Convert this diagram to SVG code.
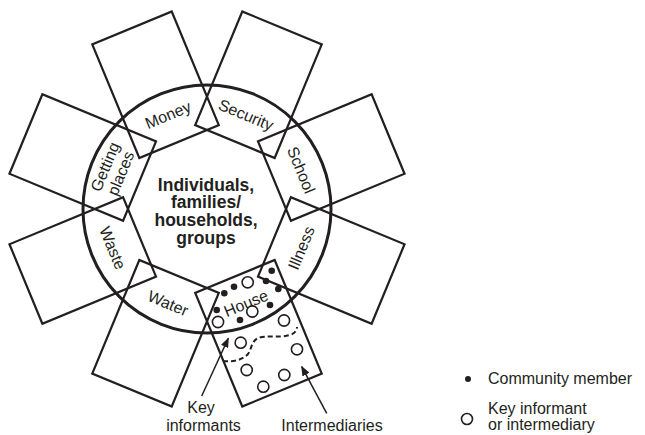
<svg xmlns="http://www.w3.org/2000/svg" width="645" height="435" viewBox="0 0 645 435">
<style>
.bg{fill:#ffffff}
.sq{fill:none;stroke:#231f20;stroke-width:2.2}
.ring{fill:none;stroke:#231f20;stroke-width:3}
.lbl{font-family:"Liberation Sans",Arial,sans-serif;font-size:16px;fill:#231f20;text-anchor:middle}
.ctr{font-family:"Liberation Sans",Arial,sans-serif;font-size:17.5px;font-weight:bold;fill:#231f20;text-anchor:middle}
.cap{font-family:"Liberation Sans",Arial,sans-serif;font-size:16px;fill:#231f20}
.dot{fill:#231f20}
.ring-o{fill:#ffffff;stroke:#231f20;stroke-width:1.6}
.dash{fill:none;stroke:#231f20;stroke-width:2;stroke-dasharray:5 3}
.arr{fill:none;stroke:#231f20;stroke-width:1.5}
</style>
<defs>
<marker id="ah" markerWidth="10" markerHeight="8" refX="9" refY="4" orient="auto" markerUnits="userSpaceOnUse">
<path d="M0,0 L10,4 L0,8 Z" fill="#231f20"/>
</marker>
</defs>
<rect class="bg" x="0" y="0" width="645" height="435"/>
<circle id="ring" class="ring" cx="207" cy="209" r="124"/>
<g id="money"><rect class="sq" x="164" y="13" width="86" height="123" transform="rotate(-22.5 207 209)"/><text class="lbl" transform="translate(168,114.8) rotate(-22.5)" dy="0.35em">Money</text></g>
<g id="security"><rect class="sq" x="164" y="13" width="86" height="123" transform="rotate(22.5 207 209)"/><text class="lbl" transform="translate(246,114.8) rotate(22.5)" dy="0.35em">Security</text></g>
<g id="school"><rect class="sq" x="164" y="13" width="86" height="123" transform="rotate(67.5 207 209)"/><text class="lbl" transform="translate(301.2,170) rotate(67.5)" dy="0.35em">School</text></g>
<g id="illness"><rect class="sq" x="164" y="13" width="86" height="123" transform="rotate(112.5 207 209)"/><text class="lbl" transform="translate(301.2,248) rotate(-67.5)" dy="0.35em">Illness</text></g>
<g id="house"><rect class="sq" x="164" y="13" width="86" height="123" transform="rotate(157.5 207 209)"/><text class="lbl" transform="translate(246,303.2) rotate(-22.5)" dy="0.35em">House</text></g>
<g id="water"><rect class="sq" x="164" y="13" width="86" height="123" transform="rotate(202.5 207 209)"/><text class="lbl" transform="translate(168,303.2) rotate(22.5)" dy="0.35em">Water</text></g>
<g id="waste"><rect class="sq" x="164" y="13" width="86" height="123" transform="rotate(247.5 207 209)"/><text class="lbl" transform="translate(112.8,248) rotate(67.5)" dy="0.35em">Waste</text></g>
<g id="getting-places"><rect class="sq" x="164" y="13" width="86" height="123" transform="rotate(292.5 207 209)"/><g transform="translate(112.8,170) rotate(-67.5)"><text class="lbl" y="-8.5" dy="0.35em">Getting</text><text class="lbl" y="8.5" dy="0.35em">places</text></g></g>
<g id="centre"><text class="ctr" x="206" y="190.5">Individuals,</text><text class="ctr" x="206" y="208.3">families/</text><text class="ctr" x="206" y="226.1">households,</text><text class="ctr" x="206" y="243.9">groups</text></g>
<g id="members">
<circle class="dot" cx="271.7" cy="270.7" r="3.3"/><circle class="dot" cx="266" cy="281" r="3.3"/><circle class="dot" cx="278.3" cy="289" r="3.3"/><circle class="dot" cx="234" cy="286.7" r="3.3"/><circle class="dot" cx="224.3" cy="293.3" r="3.3"/><circle class="dot" cx="216.7" cy="310" r="3.3"/><circle class="dot" cx="240" cy="320" r="3.3"/><circle class="dot" cx="270" cy="305" r="3.3"/>
<circle class="ring-o" cx="247.7" cy="282.3" r="5.6"/><circle class="ring-o" cx="252.3" cy="311.5" r="5.6"/><circle class="ring-o" cx="218" cy="322" r="5.6"/><circle class="ring-o" cx="284" cy="320.5" r="5.6"/><circle class="ring-o" cx="240.7" cy="342.7" r="5.6"/><circle class="ring-o" cx="297" cy="349.3" r="5.6"/><circle class="ring-o" cx="246.7" cy="370" r="5.6"/><circle class="ring-o" cx="284.3" cy="375" r="5.6"/><circle class="ring-o" cx="263.3" cy="386.7" r="5.6"/>
<path class="dash" d="M223,361 C233,362 243,360 248,354 C252,348 251,342 258,338 C266,335 280,338 290,335 C296,333 297,329 297,327"/>
</g>
<g id="connectors">
<line class="arr" x1="201.7" y1="396" x2="228.3" y2="338.3" marker-end="url(#ah)"/>
<line class="arr" x1="326.7" y1="413.3" x2="301.7" y2="366.7" marker-end="url(#ah)"/>
</g>
<g id="captions"><text class="cap" x="201" y="413" text-anchor="middle">Key</text><text class="cap" x="203.5" y="431" text-anchor="middle">informants</text><text class="cap" x="332" y="431" text-anchor="middle">Intermediaries</text></g>
<g id="legend">
<circle class="dot" cx="468" cy="379" r="3"/><text class="cap" x="488" y="383.5" font-size="15.6">Community member</text>
<circle class="ring-o" cx="467" cy="419" r="5.5"/><text class="cap" x="488" y="414" font-size="15.6">Key informant</text><text class="cap" x="488" y="430" font-size="15.6">or intermediary</text>
</g>
</svg>
